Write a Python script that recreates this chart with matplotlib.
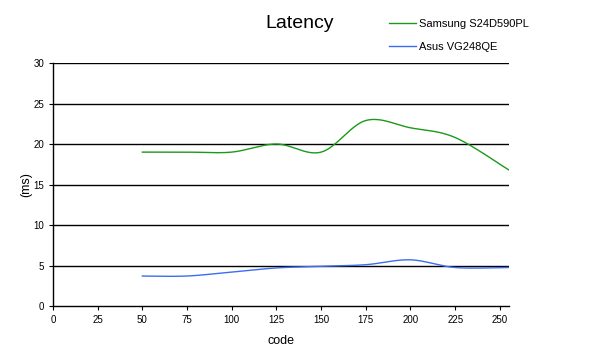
import numpy as np
import matplotlib
matplotlib.use("Agg")
import matplotlib.pyplot as plt

plt.rcParams['font.family'] = ['Liberation Sans', 'DejaVu Sans']

codes = [50, 75, 100, 125, 150, 175, 200, 225, 255]
samsung = [19.0, 19.0, 19.0, 20.0, 19.0, 22.9, 22.0, 20.8, 16.8]
asus = [3.7, 3.7, 4.2, 4.7, 4.9, 5.1, 5.7, 4.75, 4.75]
series_names = ["Samsung S24D590PL", "Asus VG248QE"]
series_colors = ["#1a9a1a", "#3a6ef0"]
x_ticks = [0, 25, 50, 75, 100, 125, 150, 175, 200, 225, 250]
y_ticks = [0, 5, 10, 15, 20, 25, 30]


def smooth(xs, ys, n=40):
    xs = np.asarray(xs, float)
    ys = np.asarray(ys, float)
    P = np.column_stack([xs, ys])
    P = np.vstack([P[0], P, P[-1]])
    out = []
    for i in range(1, len(P) - 2):
        p0, p1, p2, p3 = P[i - 1], P[i], P[i + 1], P[i + 2]
        t = np.linspace(0, 1, n)[:, None]
        c = 0.5 * ((2 * p1) + (-p0 + p2) * t + (2 * p0 - 5 * p1 + 4 * p2 - p3) * t ** 2
                   + (-p0 + 3 * p1 - 3 * p2 + p3) * t ** 3)
        out.append(c if i == 1 else c[1:])
    c = np.vstack(out)
    return c[:, 0], c[:, 1]


fig = plt.figure(figsize=(6.0, 3.54), dpi=100)
ax = fig.add_axes([0.0883, 0.1356, 0.7597, 0.6864])

handles = []
for vals, name, col in zip([samsung, asus], series_names, series_colors):
    sx, sy = smooth(codes, vals)
    h, = ax.plot(sx, sy, color=col, lw=1.0, label=name)
    handles.append(h)

ax.set_xlim(0, 255)
ax.set_ylim(0, 30)
ax.set_xticks(x_ticks)
ax.set_yticks(y_ticks)
ax.tick_params(labelsize=7, length=3, width=0.8, colors='black')
for y in y_ticks[1:]:
    ax.axhline(y, color='black', lw=1.0, zorder=0)
ax.spines['top'].set_visible(False)
ax.spines['right'].set_visible(False)
ax.spines['left'].set_linewidth(1.0)
ax.spines['bottom'].set_linewidth(1.0)

ax.set_xlabel("code", fontsize=9, labelpad=7)
ax.set_ylabel("(ms)", fontsize=9, labelpad=0.5)
fig.text(0.5, 0.935, "Latency", ha='center', va='center', fontsize=14)

fig.legend(handles=handles, labels=series_names, loc='upper left',
           bbox_to_anchor=(0.632, 0.975), frameon=False, fontsize=8,
           handlelength=2.4, labelspacing=1.15, handletextpad=0.3)

fig.savefig("out.png", dpi=100)
